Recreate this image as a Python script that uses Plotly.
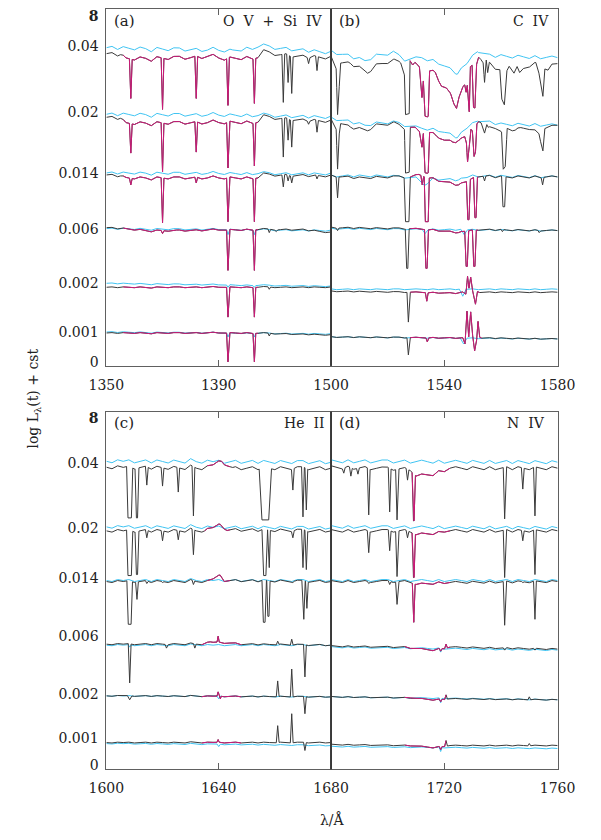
import numpy as np
import plotly.graph_objects as go

W, H = 601, 840

# ---------------- labels / ticks ----------------
LEVEL_TEXT = ["<b>8</b>", "0.04", "0.02", "0.014", "0.006", "0.002", "0.001", "0"]
TOP_LEVEL_POS = [352, 322, 255, 194, 138, 83, 34, 4]
BOT_LEVEL_POS = [353, 308, 243, 192, 134, 76, 31, 4]
WIG_AMP = [1.5, 1.3, 1.0, 0.6, 0.4, 0.4]

X_A_TICKS = [1350, 1390]; X_A_TEXT = ["1350", "1390"]
X_B_TICKS = [1500, 1540, 1580]; X_B_TEXT = ["1500", "1540", "1580"]
X_C_TICKS = [1600, 1640]; X_C_TEXT = ["1600", "1640"]
X_D_TICKS = [1680, 1720, 1760]; X_D_TEXT = ["1680", "1720", "1760"]

# small-scale continuum ripple (2 A spacing)
WIG_A = [0, 1, -1, 1, 0, -1, 1, 0, -2, 1, 0, -1, 1, 1, -1, 0, 1, -1, 0, 2, 0, -1, 1, 0, -1, 1, -1, 0, 2, 1, -1, 0, 1, -1, 0, 1, -1, 1, 0, -1, 1]
WIG_B = [1, -1, 0, 1, -1, 1, 0, -1, 1, 0, -1, 1, 1, -1, 0, 1, 0, -1, 1, -1, 0, 1, -1, 1, 0, 1, -1, 0, 1, -1, 1, 0, -1, 1, 0, -1, 1, -1, 0, 1, 0]
WIG_C = [0, -1, 1, 0, 1, -1, 0, 1, -1, 1, 0, -1, 1, 0, -1, 2, 0, -1, 1, 0, 1, -1, 0, 1, -1, 0, 1, -1, 1, 0, -1, 1, 0, -1, 1, 1, -1, 0, 1, -1, 0]
WIG_D = [1, 0, -1, 1, -1, 0, 1, -1, 0, 1, 1, -1, 0, 1, -1, 0, 1, 0, -1, 1, -1, 0, 1, 0, -1, 1, 0, -1, 1, -1, 0, 1, -1, 1, 0, -1, 1, 0, -1, 1, 0]

# ---------------- panel (a): O V + Si IV ----------------
# offsets relative to each level; lines = (lambda, bottom, halfwidth, flat)
A_BLACK_ANCH = [
    [(1350, -8), (1355, -9), (1357, -13), (1380, -12), (1386, -11), (1392, -13), (1404, -12), (1406, -7), (1412, -9), (1420, -11), (1430, -12)],
    [(1350, -5), (1355, -6), (1357, -11), (1404, -10), (1406, -5), (1420, -8), (1430, -9)],
    [(1350, -2), (1355, -3), (1357, -5), (1404, -5), (1406, -2), (1430, -3)],
    [(1350, 1), (1356, 0), (1365, -2), (1375, -2), (1404, -1), (1420, -1), (1430, -4)],
    [(1350, -4), (1356, -4), (1430, -4)],
    [(1350, -1), (1400, -1), (1430, -3)],
]
A_BLACK_LINES = [
    [(1358.7, -53), (1370.0, -64), (1382.0, -53), (1393.3, -60), (1402.7, -58), (1413.0, -57), (1414.7, -37), (1416.0, -48), (1422.0, -18), (1425.0, -25)],
    [(1358.7, -41), (1370.0, -60), (1382.0, -40), (1393.3, -56), (1402.7, -54), (1413.0, -45), (1414.7, -28), (1416.0, -35), (1422.0, -12), (1425.0, -20)],
    [(1358.7, -12), (1370.0, -50), (1382.0, -10), (1393.3, -49), (1402.7, -49), (1413.0, -14), (1414.7, -8), (1416.0, -10), (1425.0, -6)],
    [(1370.0, -5), (1393.3, -42), (1402.7, -42), (1408.0, -4), (1410.5, -3)],
    [(1393.3, -34), (1402.7, -34), (1408.0, -6)],
    [(1393.3, -30), (1402.7, -30), (1408.0, -4)],
]
A_CYAN_ANCH = [
    [(1350, -2), (1380, -4), (1395, -5), (1405, -1), (1430, -7)],
    [(1350, -2), (1400, -3), (1430, -5)],
    [(1350, 0), (1430, -1)],
    [(1350, 0), (1430, -2)],
    [(1350, 0), (1400, -2), (1430, -3)],
    [(1350, 0), (1430, -2)],
]
A_CYAN_LINES = [[], [], [], [(1393.3, -6), (1402.7, -6)], [(1393.3, -4), (1402.7, -4)], [(1393.3, -5), (1402.7, -5)]]
A_MAG_RANGE = [(1356, 1405)] * 6

# ---------------- panel (b): C IV ----------------
B_BLACK_ANCH = [
    [(1500.0, -12), (1501.8, -22), (1502.3, -68), (1502.9, -40), (1503.4, -17), (1506.8, -18), (1510.7, -23), (1512.9, -27),
     (1514.6, -23), (1515.7, -20), (1519, -17), (1522.3, -15), (1524.6, -18), (1525.9, -28), (1526.3, -68), (1527.6, -68),
     (1527.9, -15), (1528.8, -20), (1529.6, -18), (1531.2, -22), (1532.1, -52), (1532.6, -35), (1533.2, -70), (1534.3, -70),
     (1534.8, -25), (1536.8, -27), (1539, -40), (1540.7, -43), (1542.3, -50), (1543.4, -58), (1544.3, -62), (1545.2, -52),
     (1546.6, -42), (1547.2, -40), (1547.7, -47), (1548.1, -40), (1548.8, -67), (1549.2, -22), (1549.8, -21), (1550.3, -63),
     (1550.8, -63), (1551.4, -18), (1552.1, -10), (1552.9, -13), (1553.7, -17), (1554.2, -37), (1554.8, -15), (1555.3, -28),
     (1555.9, -18), (1557.9, -22), (1559.6, -25), (1560.3, -55), (1561.2, -60), (1562.1, -25), (1562.9, -20), (1564.6, -27),
     (1565.7, -22), (1566.6, -28), (1567.9, -23), (1570.1, -20), (1572.3, -18), (1573.4, -27), (1574.8, -50), (1575.5, -23),
     (1576.6, -25), (1578, -20), (1580, -18)],
    [(1500, -8), (1501.8, -16), (1502.3, -56), (1502.9, -21), (1503.4, -11), (1506.8, -15), (1512.9, -18), (1515.7, -13),
     (1522.3, -11), (1525.9, -16), (1526.3, -60), (1527.6, -60), (1527.9, -15), (1529.6, -16), (1531.2, -20), (1532.1, -35),
     (1532.6, -21), (1533.2, -60), (1534.3, -60), (1534.8, -20), (1537, -23), (1540, -28), (1543, -30), (1545.5, -28),
     (1547.2, -25), (1547.8, -31), (1548.2, -50), (1548.8, -35), (1549.4, -18), (1549.9, -20), (1550.5, -45), (1551.0, -40),
     (1551.5, -11), (1552.1, -8), (1553, -10), (1554.2, -21), (1555, -13), (1555.5, -16), (1558, -15), (1560.2, -21),
     (1560.8, -58), (1561.5, -55), (1562.2, -16), (1565, -18), (1567, -16), (1570, -16), (1573.4, -21), (1574.8, -38),
     (1575.5, -16), (1580, -13)],
    [(1500, -3), (1510, -5), (1520, -4), (1528, -4), (1531, -2), (1535, -5), (1540, -9), (1545, -12), (1547, -10), (1552, -3), (1560, -4), (1580, -4)],
    [(1500, 1), (1528, 0), (1535, -1), (1545, -4), (1547, -3), (1552, -1), (1580, -2)],
    [(1500, -8), (1530, -9), (1545, -10), (1546.5, -9), (1547.6, -11), (1548.2, 7), (1548.7, -5), (1549.3, 6), (1550.0, -8),
     (1551.0, -21), (1551.7, -8), (1552.5, -9), (1580, -9)],
    [(1500, -5), (1545, -6), (1546.5, -6), (1547.3, -12), (1548.0, 21), (1548.6, -5), (1549.3, 20), (1550.0, -4), (1550.7, -19),
     (1551.4, -8), (1551.9, 11), (1552.5, -5), (1553.2, -6), (1580, -7)],
]
B_BLACK_LINES = [
    [],
    [],
    [(1502.3, -25), (1526.9, -49, 0.5, 0.6), (1532.2, -12), (1533.8, -49, 0.4, 0.5), (1548.5, -47, 0.5, 0.2),
     (1551.0, -45, 0.5, 0.2), (1554.2, -8), (1561.0, -34, 0.5, 0.3), (1574.7, -12)],
    [(1502.3, -2), (1526.9, -40, 0.5, 0.2), (1533.7, -40, 0.5, 0.2), (1547.9, -38, 0.5, 0.2), (1550.6, -38, 0.5, 0.2),
     (1560.5, -3), (1573.5, -4)],
    [(1527.3, -39), (1533.8, -18)],
    [(1527.3, -23), (1534.0, -10)],
]
B_CYAN_ANCH = [
    [(1500, -6), (1506, -10), (1512, -15), (1516, -10), (1522, -7), (1526, -14), (1532, -12), (1538, -17), (1544.6, -28),
     (1548, -18), (1551.7, -5), (1556, -10), (1565, -11), (1580, -12)],
    [(1500, -6), (1506, -9), (1512, -13), (1516, -11), (1522, -10), (1526, -13), (1532, -16), (1538, -18), (1544.6, -25),
     (1548, -16), (1551.7, -8), (1560, -12), (1580, -13)],
    [(1500, -3), (1520, -3), (1530, -5), (1533, -12), (1536, -6), (1545, -7), (1550, -3), (1580, -4)],
    [(1500, 0), (1580, -2)],
    [(1500, -6), (1580, -6)],
    [(1500, -5), (1580, -7)],
]
B_CYAN_LINES = [[], [], [], [(1533.2, -5, 1.0), (1547.0, -6, 1.2)], [(1546.5, -13, 1.2)], [(1546.8, -12, 1.2)]]
B_MAG_RANGE = [(1527.9, 1552.1), (1527.9, 1552.1), (1528, 1552.5), (1528, 1552.5), (1528, 1553), (1528, 1553.5)]

# ---------------- panel (c): He II ----------------
C_BLACK_ANCH = [
    [(1600, -4), (1634, -5), (1636, -4), (1641, 2), (1643, -2), (1645, -5), (1680, -5)],
    [(1600, -3), (1635, -3), (1640.5, 3), (1643, -2), (1680, -3)],
    [(1600, -3), (1636, -3), (1640.5, 3), (1642, -2), (1680, -3)],
    [(1600, -8), (1634, -8), (1637, -6), (1645, -7), (1648, -8), (1680, -9)],
    [(1600, -2), (1680, -3)],
    [(1600, -4), (1680, -4)],
]
C_BLACK_LINES = [
    [(1608.3, -55, 0.5, 0.6), (1610.9, -55, 0.5, 0.2), (1614.4, -22), (1620.0, -23), (1625.6, -29), (1631.0, -53),
     (1656.6, -57, 1.0, 1.2), (1666.4, -27), (1670.0, -54), (1671.2, -47)],
    [(1608.3, -48, 0.5, 0.6), (1610.9, -47, 0.5, 0.2), (1614.4, -10), (1620.0, -13), (1625.6, -12), (1631.0, -27),
     (1656.4, -48, 0.6, 0.4), (1657.9, -40, 0.4, 0.1), (1666.4, -10), (1670.0, -40), (1671.2, -42)],
    [(1608.3, -46, 0.5, 0.5), (1610.9, -21), (1614.4, -5), (1620.0, -4), (1631.0, -6), (1656.2, -44, 0.5, 0.3),
     (1657.7, -38, 0.4, 0.2), (1666.4, -4), (1670.2, -41, 0.5, 0.1), (1671.4, -30)],
    [(1608.3, -47), (1621.4, -12), (1631.5, -12), (1639.8, 0, 0.4), (1661.0, -5), (1666.0, -3), (1670.7, -41)],
    [(1608.3, -6, 0.8), (1639.8, 2, 0.4), (1640.6, -5, 0.3), (1661.0, 13), (1666.0, 25), (1670.7, -20)],
    [(1639.8, -1, 0.4), (1661.0, 13), (1666.0, 25), (1670.7, -12)],
]
C_CYAN_ANCH = [
    [(1600, 2), (1680, 1)],
    [(1600, 1), (1680, 0)],
    [(1600, -2), (1680, -2)],
    [(1600, -9), (1680, -9)],
    [(1600, -2), (1680, -3)],
    [(1600, -5), (1650, -6), (1680, -7)],
]
C_CYAN_LINES = [[], [], [], [(1608.3, -11)], [(1640.0, -5, 0.6)], [(1640.0, -8, 0.6)]]
C_MAG_RANGE = [(1634.7, 1644.7), (1634.5, 1645), (1635, 1645), (1633, 1648), (1634, 1648), (1634, 1648)]

# ---------------- panel (d): N IV ----------------
D_BLACK_ANCH = [
    [(1680, -4), (1708, -6), (1710, -13), (1716, -11), (1720, -7), (1722, -5), (1760, -5)],
    [(1680, -3), (1708, -3), (1710, -7), (1718, -5), (1720, -3), (1760, -3)],
    [(1680, -3), (1708, -3), (1710, -6), (1720, -4), (1760, -3)],
    [(1680, -10), (1706, -11), (1712, -13), (1716, -14), (1722, -11), (1760, -13)],
    [(1680, -3), (1708, -4), (1716, -6), (1722, -5), (1760, -6)],
    [(1680, -6), (1708, -7), (1716, -9), (1722, -7), (1760, -7)],
]
D_BLACK_LINES = [
    [(1684.5, -10), (1687.0, -13), (1689.5, -11), (1693.3, -52), (1700.7, -49), (1703.3, -57), (1707.0, -17),
     (1709.2, -58, 0.5, 0.1), (1741.3, -56), (1747.7, -26), (1752.0, -53)],
    [(1693.3, -25), (1700.7, -23), (1703.3, -49), (1707.0, -10), (1709.2, -50, 0.5, 0.1), (1741.3, -50), (1747.7, -13), (1752.0, -47)],
    [(1693.3, -5), (1700.7, -6), (1703.3, -26), (1709.2, -44), (1741.3, -47), (1747.7, -4), (1752.0, -41)],
    [(1718.7, -15), (1720.6, -8), (1741.3, -14), (1752.0, -14)],
    [(1718.7, -8), (1720.6, -1), (1750.0, -3)],
    [(1718.7, -11), (1720.6, -2), (1750.0, -5)],
]
D_CYAN_ANCH = [
    [(1680, 2), (1760, 1)],
    [(1680, 1), (1760, 0)],
    [(1680, -2), (1760, -2)],
    [(1680, -11), (1760, -14)],
    [(1680, -3), (1760, -6)],
    [(1680, -8), (1760, -10)],
]
D_CYAN_LINES = [[], [], [], [(1718.7, -16)], [(1718.7, -9)], [(1718.7, -13)]]
D_MAG_RANGE = [(1708.2, 1722), (1708.2, 1722), (1708.2, 1722), (1706, 1722), (1706, 1721), (1706, 1721)]

BLACK = "#3a3a3a"
MAGENTA = "#cc1a78"
CYAN = "#40c4f2"
FONT = "DejaVu Serif"


def spectrum(lam0, wig, base, amp, anchors, lines):
    grid = lam0 + 2.0 * np.arange(len(wig))
    al = np.array([a[0] for a in anchors], float)
    ao = np.array([a[1] for a in anchors], float)

    def cont(x):
        return base + np.interp(x, al, ao) + amp * np.interp(x, grid, wig)

    xs = sorted(set(grid.tolist()) | set(al.tolist()))
    pts = [(x, float(cont(x))) for x in xs]
    for ln in lines:
        c, bot = ln[0], ln[1]
        hw = ln[2] if len(ln) > 2 else 0.5
        fl = ln[3] if len(ln) > 3 else 0.0
        lo, hi = c - fl - hw, c + fl + hw
        pts = [p for p in pts if not (lo < p[0] < hi)]
        pts.append((lo, float(cont(lo))))
        pts.append((c - fl, base + bot))
        if fl > 0:
            pts.append((c + fl, base + bot))
        pts.append((hi, float(cont(hi))))
    pts.sort(key=lambda p: p[0])
    return np.array([p[0] for p in pts]), np.array([p[1] for p in pts])


PANELS = [
    (1350, WIG_A, TOP_LEVEL_POS, A_BLACK_ANCH, A_BLACK_LINES, A_CYAN_ANCH, A_CYAN_LINES, A_MAG_RANGE, "x", "y"),
    (1500, WIG_B, TOP_LEVEL_POS, B_BLACK_ANCH, B_BLACK_LINES, B_CYAN_ANCH, B_CYAN_LINES, B_MAG_RANGE, "x2", "y2"),
    (1600, WIG_C, BOT_LEVEL_POS, C_BLACK_ANCH, C_BLACK_LINES, C_CYAN_ANCH, C_CYAN_LINES, C_MAG_RANGE, "x3", "y3"),
    (1680, WIG_D, BOT_LEVEL_POS, D_BLACK_ANCH, D_BLACK_LINES, D_CYAN_ANCH, D_CYAN_LINES, D_MAG_RANGE, "x4", "y4"),
]

fig = go.Figure()
for lam0, wig, levpos, bA, bL, cA, cL, mR, xa, ya in PANELS:
    for i in range(6):
        base = levpos[i + 1]
        amp = WIG_AMP[i]
        cx, cy = spectrum(lam0, wig, base, amp, cA[i], cL[i])
        fig.add_trace(go.Scatter(x=cx, y=cy, mode="lines", line=dict(color=CYAN, width=1),
                                 xaxis=xa, yaxis=ya, hoverinfo="skip", showlegend=False))
        bx, by = spectrum(lam0, wig, base, amp, bA[i], bL[i])
        fig.add_trace(go.Scatter(x=bx, y=by, mode="lines", line=dict(color=BLACK, width=1),
                                 xaxis=xa, yaxis=ya, hoverinfo="skip", showlegend=False))
        m0, m1 = mR[i]
        sel = (bx >= m0) & (bx <= m1)
        fig.add_trace(go.Scatter(x=bx[sel], y=by[sel], mode="lines", line=dict(color=MAGENTA, width=1),
                                 xaxis=xa, yaxis=ya, hoverinfo="skip", showlegend=False))

xl, xm, xr = 94 / W, 333 / W, 574 / W
top_dom = [1 - 367 / H, 1 - 8 / H]
bot_dom = [1 - 773 / H, 1 - 413 / H]

axline = dict(showline=True, linecolor="#606060", linewidth=1, showgrid=False, zeroline=False)
tfont = dict(family=FONT, size=14, color="#222")


def xax(dom, rng, tv, tt, anchor):
    return dict(domain=dom, range=rng, tickvals=tv, ticktext=tt, ticks="inside", ticklen=6,
                tickcolor="#606060", mirror="ticks", anchor=anchor, tickfont=tfont,
                ticklabelstandoff=6, **axline)


def yax(dom, rng, tv, tt, show, anchor):
    return dict(domain=dom, range=rng, tickvals=tv, ticktext=tt, ticks="", showticklabels=show,
                mirror=True, anchor=anchor, tickfont=tfont, ticklabelstandoff=4, **axline)


fig.update_layout(
    width=W, height=H, margin=dict(l=0, r=0, t=0, b=0),
    paper_bgcolor="white", plot_bgcolor="white",
    xaxis=xax([xl, xm], [1350, 1430], X_A_TICKS, X_A_TEXT, "y"),
    xaxis2=xax([xm, xr], [1500, 1580], X_B_TICKS, X_B_TEXT, "y2"),
    xaxis3=xax([xl, xm], [1600, 1680], X_C_TICKS, X_C_TEXT, "y3"),
    xaxis4=xax([xm, xr], [1680, 1760], X_D_TICKS, X_D_TEXT, "y4"),
    yaxis=yax(top_dom, [0, 359], TOP_LEVEL_POS, LEVEL_TEXT, True, "x"),
    yaxis2=yax(top_dom, [0, 359], TOP_LEVEL_POS, LEVEL_TEXT, False, "x2"),
    yaxis3=yax(bot_dom, [0, 360], BOT_LEVEL_POS, LEVEL_TEXT, True, "x3"),
    yaxis4=yax(bot_dom, [0, 360], BOT_LEVEL_POS, LEVEL_TEXT, False, "x4"),
)

# divider between panels
for dom in (top_dom, bot_dom):
    fig.add_shape(type="line", xref="paper", yref="paper", x0=xm, x1=xm, y0=dom[0], y1=dom[1],
                  line=dict(color="#333", width=1.6))


def ann(text, px, py, xanchor="center", angle=0, size=14):
    fig.add_annotation(text=text, x=px / W, y=1 - py / H, xref="paper", yref="paper",
                       xanchor=xanchor, yanchor="middle", showarrow=False, textangle=angle,
                       font=dict(family=FONT, size=size, color="#222"))


NB = "\u00a0\u00a0"
ann("(a)", 100, 20, "left", size=15)
ann("O" + NB + "V" + NB + "+" + NB + "Si" + NB + "IV", 327, 20, "right")
ann("(b)", 339, 20, "left", size=15)
ann("C" + NB + "IV", 567, 20, "right")
ann("(c)", 100, 425, "left", size=15)
ann("He" + NB + "II", 328, 425, "right")
ann("(d)", 339, 425, "left", size=15)
ann("N" + NB + "IV", 563, 425, "right")
ann("log L<sub>λ</sub>(t) + cst", 17, 400, angle=-90)
ann("λ/Å", 335, 823)

fig.write_html("out.html")
